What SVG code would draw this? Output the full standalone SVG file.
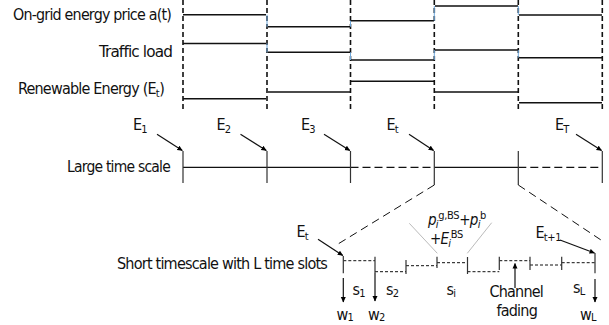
<svg xmlns="http://www.w3.org/2000/svg" width="609" height="325" viewBox="0 0 609 325">
<defs>
<marker id="ah" markerWidth="6" markerHeight="6" refX="5" refY="3" orient="auto" markerUnits="userSpaceOnUse">
<path d="M0,0.5 L5.5,3 L0,5.5 Z" fill="#000"/>
</marker>
</defs>
<style>
text{font-family:"DejaVu Sans Condensed","DejaVu Sans",sans-serif;font-size:15px;fill:#111;letter-spacing:-0.8px}
.lab{font-size:16px}
.sub{font-size:11px;letter-spacing:-0.3px}
.big{font-size:16px}
.vd{stroke:#111;stroke-width:1.6;stroke-dasharray:5,3;fill:none}
.sig{stroke:#111;stroke-width:1.5;fill:none}
.bl{stroke:#6fa8dc;stroke-width:1;fill:none}
.ln{stroke:#111;stroke-width:1.2;fill:none}
.tk{stroke:#333;stroke-width:1.2;fill:none}
.ld{stroke:#111;stroke-width:1.2;stroke-dasharray:8,4;fill:none}
.sd{stroke:#111;stroke-width:1;stroke-dasharray:3,2;fill:none}
.gd{stroke:#111;stroke-width:1;stroke-dasharray:8,5;fill:none}
.gr{stroke:#bbb;stroke-width:1;fill:none}
.ar{stroke:#111;stroke-width:1.2;fill:none;marker-end:url(#ah)}
</style>

<g id="labels">
<text class="lab" x="171" y="19.5" text-anchor="end" textLength="158" lengthAdjust="spacingAndGlyphs">On-grid energy price a(t)</text>
<text class="lab" x="172" y="56.5" text-anchor="end" textLength="73" lengthAdjust="spacingAndGlyphs">Traffic load</text>
<text class="lab" x="18" y="94">Renewable Energy (E<tspan class="sub" dy="3">t</tspan><tspan dy="-3">)</tspan></text>
<text class="lab" x="170" y="172" text-anchor="end" textLength="103" lengthAdjust="spacingAndGlyphs">Large time scale</text>
<text class="lab" x="327" y="268.5" text-anchor="end" textLength="210" lengthAdjust="spacingAndGlyphs">Short timescale with L time slots</text>
</g>

<g id="period-grid">
<line class="vd" x1="183" y1="0" x2="183" y2="110"/>
<line class="vd" x1="267" y1="0" x2="267" y2="110"/>
<line class="vd" x1="350.5" y1="0" x2="350.5" y2="110"/>
<line class="vd" x1="434.3" y1="0" x2="434.3" y2="110"/>
<line class="vd" x1="518.3" y1="0" x2="518.3" y2="110"/>
<line class="vd" x1="602.3" y1="0" x2="602.3" y2="110"/>
</g>

<g id="price-signal">
<path class="sig" d="M183,14.7 H266 M268,26.7 H350 M351,20.7 H434 M435,6 H518 M519,15 H602"/>
<path class="bl" d="M267,14.7 V26.7 M350.5,20.7 V26.7 M434.3,6 V20.7 M518.3,6 V15"/>
</g>
<g id="traffic-signal">
<path class="sig" d="M183,43.5 H266 M268,52.3 H350 M351,60 H434 M435,50 H518 M519,57.7 H602"/>
<path class="bl" d="M267,43.5 V52.3 M350.5,52.3 V60 M434.3,50 V60 M518.3,50 V57.7"/>
</g>
<g id="renewable-signal">
<path class="sig" d="M183,98.7 H266 M268,92 H350 M351,81.3 H434 M435,92 H518 M519,102.7 H602"/>
</g>

<g id="large-timescale">
<path class="ln" d="M183,167.3 H350.5 M434.3,167.3 H518.3"/>
<path class="ld" d="M350.5,167.3 H434.3 M518.3,167.3 H602.3"/>
<path class="tk" d="M183,151 V183 M267,151 V183 M350.5,151 V183 M434.3,151 V185 M518.3,151 V185 M602.3,151 V183"/>
</g>

<g id="energy-arrivals">
<text class="big" x="133" y="130">E<tspan class="sub" dy="3">1</tspan></text>
<text class="big" x="216.5" y="130">E<tspan class="sub" dy="3">2</tspan></text>
<text class="big" x="301" y="130">E<tspan class="sub" dy="3">3</tspan></text>
<text class="big" x="386.5" y="130">E<tspan class="sub" dy="3">t</tspan></text>
<text class="big" x="555" y="130">E<tspan class="sub" dy="3">T</tspan></text>
<line class="ar" x1="157" y1="134.3" x2="182.3" y2="150.5"/>
<line class="ar" x1="240.5" y1="134.3" x2="266.3" y2="150.5"/>
<line class="ar" x1="324" y1="134.3" x2="349.8" y2="150.5"/>
<line class="ar" x1="409" y1="134.3" x2="433.6" y2="150.5"/>
<line class="ar" x1="576" y1="134.3" x2="601.6" y2="150.5"/>
</g>

<g id="zoom-guides">
<line class="gd" x1="434.3" y1="185" x2="338" y2="244"/>
<line class="gd" x1="518.3" y1="185" x2="601" y2="240"/>
</g>

<g id="short-timescale">
<path class="sd" d="M343.3,260.7 H375 M375,271.7 H406 M406,265.7 H437 M437,262.7 H467.5 M467.5,271.7 H499.3 M499.3,260.7 H530 M530,265 H561.7 M561.7,262.7 H595"/>
<path class="tk" d="M343.3,256 V273.3 M375,256.7 V273 M406,260 V274 M437,256.7 V268 M467.5,257 V274 M499.3,256.7 V270 M530,256.7 V270 M561.7,256.7 V270 M595,253 V273.3"/>
</g>

<g id="slot-outputs">
<line class="ar" x1="343.3" y1="278" x2="343.3" y2="302"/>
<line class="ar" x1="375" y1="273" x2="375" y2="301"/>
<line class="ar" x1="595" y1="279" x2="595" y2="302"/>
<text class="big" x="336.5" y="320">w<tspan class="sub" dy="1">1</tspan></text>
<text class="big" x="368" y="320">w<tspan class="sub" dy="1">2</tspan></text>
<text class="big" x="580" y="320">w<tspan class="sub" dy="1">L</tspan></text>
<text class="big" x="352.5" y="295">s<tspan class="sub" dy="2">1</tspan></text>
<text class="big" x="386" y="295">s<tspan class="sub" dy="2">2</tspan></text>
<text class="big" x="446.5" y="295">s<tspan class="sub" dy="2">i</tspan></text>
<text class="big" x="573" y="293">s<tspan class="sub" dy="2">L</tspan></text>
</g>

<g id="short-arrivals">
<text class="big" x="296.5" y="236.5">E<tspan class="sub" dy="3">t</tspan></text>
<line class="ar" x1="318" y1="239.3" x2="342.8" y2="255.5"/>
<text class="big" x="535.5" y="238">E<tspan class="sub" dy="3">t+1</tspan></text>
<line class="ar" x1="560" y1="240" x2="594.5" y2="253"/>
</g>

<g id="slot-cost">
<line class="gr" x1="409.3" y1="223.3" x2="437.3" y2="253.3"/>
<line class="gr" x1="491.7" y1="222.7" x2="467.3" y2="253.3"/>
<text x="428" y="225"><tspan font-style="italic">p</tspan><tspan class="sub" font-style="italic" dy="3">i</tspan><tspan class="sub" dy="-9">g,BS</tspan><tspan dy="6">+</tspan><tspan font-style="italic">p</tspan><tspan class="sub" font-style="italic" dy="3">i</tspan><tspan class="sub" dy="-9">b</tspan></text>
<text x="430" y="244">+<tspan font-style="italic">E</tspan><tspan class="sub" font-style="italic" dy="3">i</tspan><tspan class="sub" dy="-9">BS</tspan></text>
</g>

<g id="channel-fading">
<line class="ar" x1="515" y1="288" x2="515" y2="263.5"/>
<text class="lab" x="489.5" y="296.5">Channel</text>
<text class="lab" x="496.5" y="316">fading</text>
</g>
</svg>
